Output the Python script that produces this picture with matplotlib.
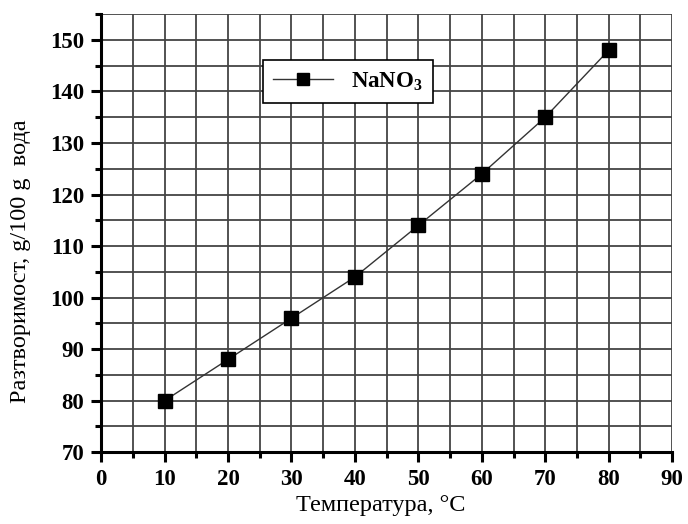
import matplotlib.pyplot as plt
from matplotlib.ticker import MultipleLocator

temperature = [10, 20, 30, 40, 50, 60, 70, 80]
solubility = [80, 88, 96, 104, 114, 124, 135, 148]

plt.rcParams['font.family'] = ['Liberation Serif', 'DejaVu Serif']

fig, ax = plt.subplots(figsize=(6.88, 5.24), dpi=100)
fig.subplots_adjust(left=0.147, right=0.977, top=0.973, bottom=0.137)

ax.plot(temperature, solubility, color='#333333', lw=1.0, marker='s',
        markersize=10, markerfacecolor='black', markeredgecolor='black',
        label=r'NaNO$_{\mathregular{3}}$', zorder=3)

ax.set_xlim(0, 90)
ax.set_ylim(70, 155)
ax.xaxis.set_major_locator(MultipleLocator(10))
ax.xaxis.set_minor_locator(MultipleLocator(5))
ax.yaxis.set_major_locator(MultipleLocator(10))
ax.yaxis.set_minor_locator(MultipleLocator(5))
ax.set_yticks(range(70, 151, 10))

ax.grid(True, which='both', color='#444444', lw=1.3)
ax.set_axisbelow(True)

for side in ['top', 'right']:
    ax.spines[side].set_visible(False)
for side in ['left', 'bottom']:
    ax.spines[side].set_linewidth(2.2)
    ax.spines[side].set_color('black')

ax.tick_params(which='major', direction='out', length=7, width=2.2,
               labelsize=16.5, pad=5)
ax.tick_params(which='minor', direction='out', length=4, width=2.2)
for lab in ax.get_xticklabels() + ax.get_yticklabels():
    lab.set_fontweight('bold')

ax.set_xlabel('Температура, °C', fontsize=17.5, va='center')
ax.set_ylabel('Разтворимост, g/100 g  вода', fontsize=17.5, va='center')
ax.xaxis.set_label_coords(0.489, -0.121)
ax.yaxis.set_label_coords(-0.142, 0.436)

leg = ax.legend(loc='upper left', bbox_to_anchor=(0.283, 0.896), frameon=True,
                fancybox=False, edgecolor='black', framealpha=1,
                prop={'weight': 'bold', 'size': 16.5}, handlelength=2.6,
                borderpad=0.45, borderaxespad=0, markerscale=0.8)
leg.get_frame().set_linewidth(1.2)

plt.savefig('out.png', dpi=100)
